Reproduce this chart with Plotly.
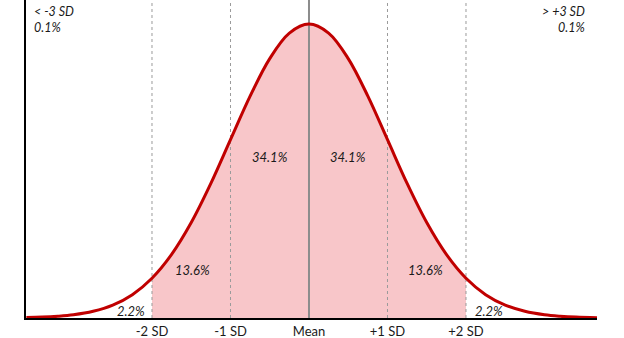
import plotly.graph_objects as go

# Curve heights (x in SD units, y = density height)
x_sd = [-3.6, -3.4, -3.2, -3.0, -2.75, -2.5, -2.25, -2.0, -1.75, -1.5, -1.25, -1.0, -0.75, -0.5, -0.25, 0.0,
        0.25, 0.5, 0.75, 1.0, 1.25, 1.5, 1.75, 2.0, 2.25, 2.5, 2.75, 3.0, 3.2, 3.4, 3.67]
y_den = [0.0006, 0.0012, 0.0024, 0.0044, 0.0091, 0.0175, 0.0317, 0.054, 0.0863, 0.1295, 0.1826, 0.242, 0.3011, 0.3521, 0.3867, 0.3989,
         0.3867, 0.3521, 0.3011, 0.242, 0.1826, 0.1295, 0.0863, 0.054, 0.0317, 0.0175, 0.0091, 0.0044, 0.0024, 0.0012, 0.0005]

tick_vals = [-2, -1, 0, 1, 2]
tick_text = ["-2 SD", "-1 SD", "Mean", "+1 SD", "+2 SD"]

region_labels = ["2.2%", "13.6%", "34.1%", "34.1%", "13.6%", "2.2%"]
region_x = [-2.27, -1.48, -0.50, 0.50, 1.48, 2.29]
region_y = [0.0095, 0.065, 0.218, 0.218, 0.065, 0.0095]

tail_left = ["< -3 SD", "0.1%"]
tail_right = ["> +3 SD", "0.1%"]

CURVE = "#C00000"
FILL = "#F8C6C9"
FONT = "Lato"
TXT = "#1a1a1a"

fig = go.Figure()

# filled region between -2 SD and +2 SD
fx = [x for x in x_sd if -2.0 <= x <= 2.0]
fy = [y for x, y in zip(x_sd, y_den) if -2.0 <= x <= 2.0]
fig.add_trace(go.Scatter(x=fx, y=fy, mode="lines", fill="tozeroy", fillcolor=FILL,
                         line=dict(color="rgba(0,0,0,0)", width=0, shape="spline"),
                         hoverinfo="skip", showlegend=False))

YMAX = 0.4316

# vertical guide lines
for v in [-2, -1, 1, 2]:
    fig.add_trace(go.Scatter(x=[v, v], y=[0, YMAX], mode="lines",
                             line=dict(color="#9a9a9a", width=1, dash="3px,3px"),
                             hoverinfo="skip", showlegend=False))
fig.add_trace(go.Scatter(x=[0, 0], y=[0, YMAX], mode="lines",
                         line=dict(color="#8c8c8c", width=2),
                         hoverinfo="skip", showlegend=False))

# curve
fig.add_trace(go.Scatter(x=x_sd, y=y_den, mode="lines",
                         line=dict(color=CURVE, width=3, shape="spline"),
                         hoverinfo="skip", showlegend=False))

for t, x, y in zip(region_labels, region_x, region_y):
    fig.add_annotation(x=x, y=y, text="<i>" + t + "</i>", showarrow=False,
                       font=dict(family=FONT, size=13, color=TXT))

fig.add_annotation(xref="paper", yref="paper", x=0.010, y=0.995, xanchor="left", yanchor="top",
                   text="<i>" + tail_left[0] + "<br>" + tail_left[1] + "</i>", align="left",
                   showarrow=False, font=dict(family=FONT, size=12.5, color=TXT))
fig.add_annotation(xref="paper", yref="paper", x=0.983, y=0.995, xanchor="right", yanchor="top",
                   text="<i>" + tail_right[0] + "<br>" + tail_right[1] + "</i>", align="right",
                   showarrow=False, font=dict(family=FONT, size=12.5, color=TXT))

fig.update_xaxes(range=[-3.605, 3.669], tickvals=tick_vals, ticktext=tick_text,
                 showgrid=False, zeroline=False, showline=True, linecolor="black", linewidth=2,
                 ticks="", ticklen=0, tickfont=dict(family=FONT, size=13, color=TXT))
fig.update_yaxes(range=[0, YMAX], showgrid=False, zeroline=False, showticklabels=False,
                 showline=True, linecolor="black", linewidth=2, ticks="")

fig.update_layout(width=624, height=338, margin=dict(l=26, r=27, t=0, b=20),
                  plot_bgcolor="white", paper_bgcolor="white")

fig.write_html("out.html", config={"displayModeBar": False},
               post_script="document.body.style.margin='0';document.body.style.overflow='hidden';")
